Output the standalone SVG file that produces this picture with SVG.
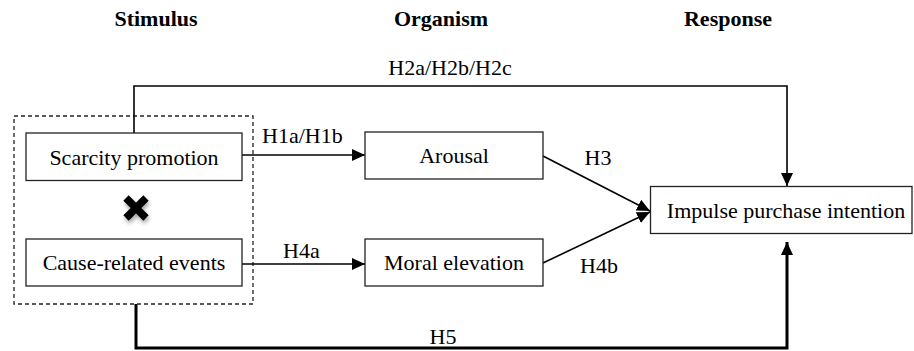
<svg xmlns="http://www.w3.org/2000/svg" width="914" height="351" viewBox="0 0 914 351" font-family="'Liberation Serif', 'Times New Roman', serif" font-size="22">
<style>
  text { font-family: 'Liberation Serif', 'Times New Roman', serif; font-size: 22px; fill: #000; }
  .hdr { font-weight: bold; text-anchor: middle; }
  .lbl { text-anchor: middle; }
  .box { fill: #fff; stroke: #222; stroke-width: 1.3; }
  .con { fill: none; stroke: #000; stroke-width: 1.6; }
  .thick { fill: none; stroke: #000; stroke-width: 3; }
</style>
<defs>
  <marker id="arr" markerUnits="userSpaceOnUse" markerWidth="14" markerHeight="12" refX="13" refY="6" orient="auto">
    <path d="M0,0 L13,6 L0,12 Z" fill="#000"/>
  </marker>
  <filter id="sh" x="-50%" y="-50%" width="200%" height="200%">
    <feGaussianBlur in="SourceAlpha" stdDeviation="2"/>
    <feOffset dx="1" dy="3" result="b"/>
    <feComponentTransfer><feFuncA type="linear" slope="0.35"/></feComponentTransfer>
    <feMerge><feMergeNode/><feMergeNode in="SourceGraphic"/></feMerge>
  </filter>
</defs>

<g id="headers">
  <text class="hdr" x="156" y="26">Stimulus</text>
  <text class="hdr" x="441" y="26">Organism</text>
  <text class="hdr" x="728" y="26">Response</text>
</g>

<g id="stimulus-group">
  <rect x="14" y="116" width="239" height="188" fill="none" stroke="#222" stroke-width="1.3" stroke-dasharray="4,3"/>
</g>

<g id="connectors">
  <path class="con" d="M134,133 V86 H787 V186" marker-end="url(#arr)"/>
  <path class="con" d="M242,155 H365" marker-end="url(#arr)"/>
  <path class="con" d="M242,264 H365" marker-end="url(#arr)"/>
  <path class="con" d="M543,156 L650,211" marker-end="url(#arr)"/>
  <path class="con" d="M543,263 L650,212" marker-end="url(#arr)"/>
  <path class="thick" d="M136,304 V348 H787 V242" marker-end="url(#arr)"/>
  <text class="lbl" x="450" y="75">H2a/H2b/H2c</text>
  <text x="262" y="143">H1a/H1b</text>
  <text x="283" y="258">H4a</text>
  <text class="lbl" x="598" y="165">H3</text>
  <text class="lbl" x="599" y="273">H4b</text>
  <text class="lbl" x="443" y="344">H5</text>
</g>

<g id="scarcity">
  <rect class="box" x="26" y="133" width="216" height="47.5"/>
  <text class="lbl" x="134" y="165">Scarcity promotion</text>
</g>

<g id="cause">
  <rect class="box" x="26" y="239" width="216" height="47"/>
  <text class="lbl" x="134" y="270">Cause-related events</text>
</g>

<g id="interaction" filter="url(#sh)">
  <path d="M126,198 L146,218 M146,198 L126,218" stroke="#000" stroke-width="7.5" fill="none"/>
</g>

<g id="arousal">
  <rect class="box" x="365" y="132" width="178" height="47"/>
  <text class="lbl" x="454" y="163">Arousal</text>
</g>

<g id="moral">
  <rect class="box" x="365" y="239" width="178" height="47"/>
  <text class="lbl" x="454" y="270">Moral elevation</text>
</g>

<g id="impulse">
  <rect class="box" x="650.5" y="186.5" width="261.5" height="47"/>
  <text class="lbl" x="786" y="218">Impulse purchase intention</text>
</g>
</svg>
